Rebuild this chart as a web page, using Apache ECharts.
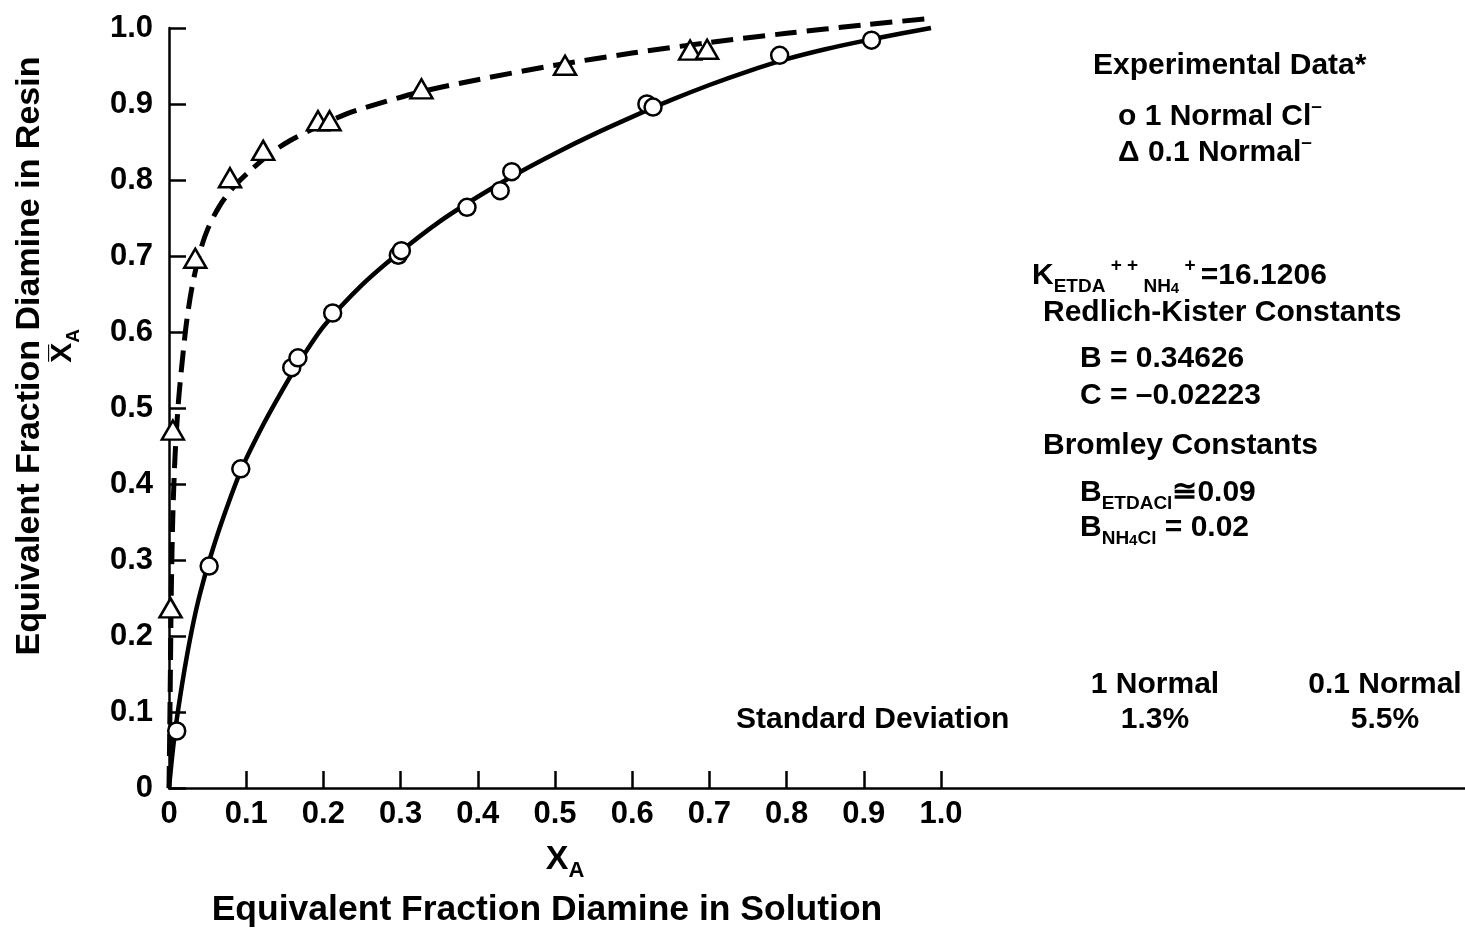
<!DOCTYPE html>
<html>
<head>
<meta charset="utf-8">
<script src="https://cdn.jsdelivr.net/npm/echarts@6/dist/echarts.min.js"></script>
<style>
html,body{margin:0;padding:0;background:#fff;}
#c{width:1465px;height:929px;}
</style>
</head>
<body>
<div id="c"></div>
<script>
// ---- data ----
const xTickLabels = ['0','0.1','0.2','0.3','0.4','0.5','0.6','0.7','0.8','0.9','1.0'];
const yTickLabels = ['0','0.1','0.2','0.3','0.4','0.5','0.6','0.7','0.8','0.9','1.0'];

// 1 Normal Cl- experimental points (circles)
const circleX = [0.010, 0.052, 0.093, 0.159, 0.167, 0.212, 0.297, 0.301, 0.386, 0.429, 0.444, 0.619, 0.627, 0.791, 0.910];
const circleY = [0.075, 0.292, 0.420, 0.553, 0.566, 0.625, 0.701, 0.707, 0.764, 0.786, 0.811, 0.900, 0.896, 0.964, 0.984];

// 0.1 Normal experimental points (triangles)
const triX = [0.002, 0.005, 0.034, 0.079, 0.122, 0.193, 0.208, 0.327, 0.513, 0.675, 0.697];
const triY = [0.237, 0.471, 0.697, 0.803, 0.839, 0.878, 0.878, 0.920, 0.951, 0.971, 0.972];

// fitted curve, 1 Normal (solid)
const solidX = [0, 0.005, 0.010, 0.020, 0.030, 0.040, 0.053, 0.070, 0.094, 0.122, 0.146, 0.166, 0.200, 0.250, 0.300, 0.350, 0.400, 0.450, 0.500, 0.550, 0.600, 0.650, 0.700, 0.750, 0.800, 0.850, 0.900, 0.950, 0.987];
const solidY = [0, 0.050, 0.090, 0.155, 0.210, 0.255, 0.302, 0.355, 0.420, 0.478, 0.522, 0.556, 0.607, 0.662, 0.706, 0.745, 0.778, 0.808, 0.835, 0.860, 0.883, 0.905, 0.925, 0.943, 0.959, 0.972, 0.983, 0.993, 1.000];

// fitted curve, 0.1 Normal (dashed)
const dashX = [0, 0.001, 0.002, 0.003, 0.005, 0.008, 0.012, 0.017, 0.023, 0.030, 0.040, 0.050, 0.065, 0.083, 0.105, 0.130, 0.157, 0.190, 0.230, 0.280, 0.330, 0.400, 0.500, 0.600, 0.700, 0.800, 0.900, 0.990];
const dashY = [0, 0.08, 0.17, 0.26, 0.36, 0.44, 0.505, 0.560, 0.615, 0.660, 0.705, 0.735, 0.765, 0.790, 0.812, 0.834, 0.852, 0.869, 0.887, 0.903, 0.917, 0.932, 0.951, 0.967, 0.981, 0.993, 1.004, 1.013];

const pairs = (xs, ys) => xs.map((x, i) => [x, ys[i]]);

// ---- chart ----
const FF = '"Liberation Sans", Arial, Helvetica, sans-serif';
const chart = echarts.init(document.getElementById('c'), null, {renderer: 'canvas'});

const rich = {
  m:   {fontSize: 30, fontWeight: 'bold', fontFamily: FF, color: '#000', lineHeight: 40},
  sub: {fontSize: 19, fontWeight: 'bold', fontFamily: FF, color: '#000', verticalAlign: 'bottom', lineHeight: 26},
  sub2:{fontSize: 15, fontWeight: 'bold', fontFamily: FF, color: '#000', verticalAlign: 'bottom', lineHeight: 18},
  sup: {fontSize: 19, fontWeight: 'bold', fontFamily: FF, color: '#000', verticalAlign: 'top', lineHeight: 22},
  big: {fontSize: 34, fontWeight: 'bold', fontFamily: FF, color: '#000', lineHeight: 44},
  bsub:{fontSize: 22, fontWeight: 'bold', fontFamily: FF, color: '#000', verticalAlign: 'bottom', lineHeight: 28}
};

function txt(x, y, text, align) {
  return {
    type: 'text', x: x, y: y, z: 100,
    style: {text: text, rich: rich, align: align || 'left', verticalAlign: 'middle',
            font: 'bold 30px ' + FF, fill: '#000'}
  };
}

const option = {
  backgroundColor: '#fff',
  animation: false,
  grid: [
    {left: 169, top: 28, width: 772, height: 760, outerBoundsMode: 'none'},
    {left: 169, top: 28, right: 0, height: 760, outerBoundsMode: 'none'}
  ],
  xAxis: [
    {
      gridIndex: 0, type: 'value', min: 0, max: 1, interval: 0.1,
      axisLine: {show: false},
      axisTick: {show: true, inside: true, length: 17, lineStyle: {color: '#000', width: 2.5}},
      axisLabel: {
        show: true, margin: 11, color: '#000', fontSize: 31, fontWeight: 'bold', fontFamily: FF,
        formatter: (v) => xTickLabels[Math.round(v * 10)]
      },
      splitLine: {show: false}
    },
    {
      gridIndex: 1, type: 'value', min: 0, max: 1,
      axisLine: {show: true, onZero: false, lineStyle: {color: '#000', width: 2.5}},
      axisTick: {show: false}, axisLabel: {show: false}, splitLine: {show: false}
    }
  ],
  yAxis: [
    {
      gridIndex: 0, type: 'value', min: 0, max: 1, interval: 0.1,
      axisLine: {show: true, onZero: false, lineStyle: {color: '#000', width: 2.5}},
      axisTick: {show: true, inside: true, length: 17, lineStyle: {color: '#000', width: 2.5}},
      axisLabel: {
        show: true, margin: 16, color: '#000', fontSize: 31, fontWeight: 'bold', fontFamily: FF,
        formatter: (v) => yTickLabels[Math.round(v * 10)]
      },
      splitLine: {show: false}
    },
    {gridIndex: 1, type: 'value', min: 0, max: 1, show: false}
  ],
  series: [
    {
      name: '1 Normal fit', type: 'line', xAxisIndex: 0, yAxisIndex: 0,
      data: pairs(solidX, solidY), showSymbol: false, smooth: 0.3, clip: false,
      lineStyle: {color: '#000', width: 4.5}, z: 2
    },
    {
      name: '0.1 Normal fit', type: 'line', xAxisIndex: 0, yAxisIndex: 0,
      data: pairs(dashX, dashY), showSymbol: false, smooth: 0.3, clip: false,
      lineStyle: {color: '#000', width: 5, type: [22, 10]}, z: 2
    },
    {
      name: '1 Normal Cl-', type: 'scatter', xAxisIndex: 0, yAxisIndex: 0,
      data: pairs(circleX, circleY), symbol: 'circle', symbolSize: 17, clip: false,
      itemStyle: {color: '#fff', borderColor: '#000', borderWidth: 2.5, opacity: 1}, z: 5
    },
    {
      name: '0.1 Normal', type: 'scatter', xAxisIndex: 0, yAxisIndex: 0,
      data: pairs(triX, triY), symbol: 'triangle', symbolSize: [22, 19], clip: false,
      itemStyle: {color: '#fff', borderColor: '#000', borderWidth: 2.5, opacity: 1}, z: 5
    }
  ],
  graphic: [
    // y axis title (rotated)
    {
      type: 'text', x: 30, y: 356, rotation: Math.PI / 2, z: 100,
      style: {text: 'Equivalent Fraction Diamine in Resin', align: 'center', verticalAlign: 'middle',
              font: 'bold 34px ' + FF, fill: '#000'}
    },
    {
      type: 'text', x: 63, y: 346, rotation: Math.PI / 2, z: 100,
      style: {text: '{m|X\u0305}{sub|A}', rich: rich, align: 'center', verticalAlign: 'middle',
              font: 'bold 30px ' + FF, fill: '#000'}
    },
    // x axis title
    txt(565, 860, '{big|X}{bsub|A}', 'center'),
    {
      type: 'text', x: 547, y: 910, z: 100,
      style: {text: 'Equivalent Fraction Diamine in Solution', align: 'center', verticalAlign: 'middle',
              font: 'bold 35.5px ' + FF, fill: '#000'}
    },
    // legend block
    txt(1093, 66, '{m|Experimental Data*}'),
    txt(1118, 117, '{m|o 1 Normal Cl}{sup|\u2013}'),
    txt(1118, 153, '{m|\u0394 0.1 Normal}{sup|\u2013}'),
    // constants
    txt(1032, 276, '{m|K}{sub|ETDA}{sup| + + }{sub|NH}{sub2|4}{sup| + }{m|=16.1206}'),
    txt(1043, 313, '{m|Redlich-Kister Constants}'),
    txt(1080, 359, '{m|B = 0.34626}'),
    txt(1080, 396, '{m|C = \u20130.02223}'),
    txt(1043, 446, '{m|Bromley Constants}'),
    txt(1080, 493, '{m|B}{sub|ETDACl}{m|\u22450.09}'),
    txt(1080, 528, '{m|B}{sub|NH}{sub2|4}{sub|Cl}{m| = 0.02}'),
    // standard deviation table
    txt(1155, 685, '{m|1 Normal}', 'center'),
    txt(1385, 685, '{m|0.1 Normal}', 'center'),
    txt(736, 720, '{m|Standard Deviation}'),
    txt(1155, 720, '{m|1.3%}', 'center'),
    txt(1385, 720, '{m|5.5%}', 'center')
  ]
};
chart.setOption(option);
</script>
</body>
</html>
